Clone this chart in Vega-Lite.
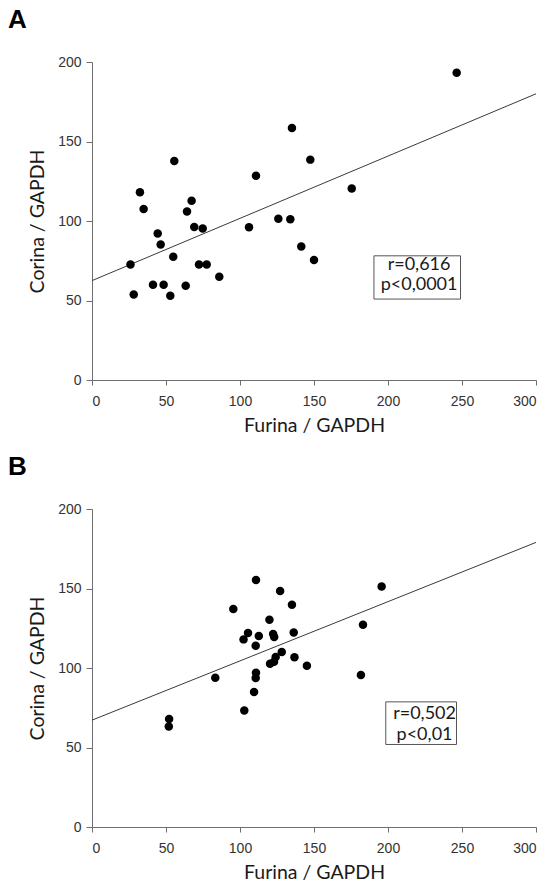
{
  "$schema": "https://vega.github.io/schema/vega-lite/v6.json",
  "background": "white",
  "padding": {"left": 8, "top": 7, "right": 5, "bottom": 2},
  "spacing": 19,
  "config": {
    "view": {"stroke": null},
    "axis": {
      "grid": false,
      "domainColor": "#6e6e6e",
      "tickColor": "#6e6e6e",
      "labelFont": "Liberation Sans",
      "labelFontSize": 14,
      "labelColor": "#333333",
      "titleFont": "Lato",
      "titleFontSize": 19.5,
      "titleFontWeight": "normal",
      "titleColor": "#1a1a1a"
    },
    "axisX": {"tickSize": 5, "labelPadding": 9, "titlePadding": 8},
    "axisY": {"tickSize": 6, "labelPadding": 5, "titlePadding": 10},
    "title": {
      "font": "Liberation Sans",
      "fontSize": 26,
      "fontWeight": "bold",
      "color": "#000000",
      "anchor": "start",
      "frame": "group",
      "dx": -84,
      "offset": 22
    }
  },
  "datasets": {
    "pointsA": [
      {"furina": 26.0, "corina": 72.7}, {"furina": 28.2, "corina": 53.8},
      {"furina": 32.4, "corina": 118.1}, {"furina": 34.9, "corina": 107.6},
      {"furina": 44.4, "corina": 92.1}, {"furina": 46.4, "corina": 85.2},
      {"furina": 41.2, "corina": 59.9}, {"furina": 48.4, "corina": 59.9},
      {"furina": 52.9, "corina": 53.0}, {"furina": 54.9, "corina": 77.5},
      {"furina": 55.6, "corina": 137.8}, {"furina": 63.3, "corina": 59.3},
      {"furina": 64.2, "corina": 106.0}, {"furina": 67.3, "corina": 112.7},
      {"furina": 69.1, "corina": 96.3}, {"furina": 74.8, "corina": 95.3},
      {"furina": 72.3, "corina": 72.7}, {"furina": 77.5, "corina": 72.7},
      {"furina": 86.0, "corina": 64.9}, {"furina": 106.1, "corina": 96.1},
      {"furina": 110.8, "corina": 128.4}, {"furina": 125.9, "corina": 101.4},
      {"furina": 134.0, "corina": 101.1}, {"furina": 135.1, "corina": 158.5},
      {"furina": 141.4, "corina": 84.0}, {"furina": 147.5, "corina": 138.6},
      {"furina": 150.0, "corina": 75.4}, {"furina": 175.5, "corina": 120.5},
      {"furina": 246.4, "corina": 193.3}
    ],
    "fitA": [{"furina": 0, "corina": 62.5}, {"furina": 300, "corina": 180.0}],
    "boxA": [{"furina": 190.5, "furina2": 249.0, "corina": 50.9, "corina2": 78.1}],
    "statsA": [
      {"furina": 221.0, "corina": 69.3, "label": "r=0,616"},
      {"furina": 221.0, "corina": 56.5, "label": "p<0,0001"}
    ],
    "pointsB": [
      {"furina": 52.1, "corina": 68.0}, {"furina": 51.9, "corina": 63.2},
      {"furina": 83.3, "corina": 93.8}, {"furina": 95.5, "corina": 137.1},
      {"furina": 102.9, "corina": 73.2}, {"furina": 102.4, "corina": 118.0},
      {"furina": 105.4, "corina": 122.0}, {"furina": 110.8, "corina": 155.4},
      {"furina": 110.6, "corina": 114.0}, {"furina": 110.8, "corina": 97.0},
      {"furina": 110.6, "corina": 93.7}, {"furina": 109.5, "corina": 84.9},
      {"furina": 112.7, "corina": 120.1}, {"furina": 119.9, "corina": 130.3},
      {"furina": 122.4, "corina": 121.4}, {"furina": 123.1, "corina": 119.5},
      {"furina": 120.3, "corina": 102.7}, {"furina": 123.0, "corina": 104.0},
      {"furina": 124.1, "corina": 106.9}, {"furina": 128.2, "corina": 110.1},
      {"furina": 127.1, "corina": 148.4}, {"furina": 135.1, "corina": 139.8},
      {"furina": 136.3, "corina": 122.3}, {"furina": 136.8, "corina": 106.7},
      {"furina": 145.2, "corina": 101.4}, {"furina": 181.7, "corina": 95.6},
      {"furina": 183.1, "corina": 127.2}, {"furina": 195.7, "corina": 151.2}
    ],
    "fitB": [{"furina": 0, "corina": 67.2}, {"furina": 300, "corina": 179.0}],
    "boxB": [{"furina": 198.5, "furina2": 246.3, "corina": 51.9, "corina2": 78.7}],
    "statsB": [
      {"furina": 224.7, "corina": 68.0, "label": "r=0,502"},
      {"furina": 224.7, "corina": 55.0, "label": "p<0,01"}
    ]
  },
  "vconcat": [
    {
      "title": {"text": "A"},
      "width": 444,
      "height": 318,
      "encoding": {
        "x": {
          "field": "furina", "type": "quantitative",
          "scale": {"domain": [0, 300], "nice": false},
          "axis": {"title": "Furina / GAPDH", "values": [0, 50, 100, 150, 200, 250, 300]}
        },
        "y": {
          "field": "corina", "type": "quantitative",
          "scale": {"domain": [0, 200], "nice": false},
          "axis": {"title": "Corina / GAPDH", "values": [0, 50, 100, 150, 200]}
        }
      },
      "layer": [
        {"data": {"name": "fitA"}, "mark": {"type": "line", "color": "#3a3a3a", "strokeWidth": 1}},
        {"data": {"name": "pointsA"}, "mark": {"type": "circle", "color": "#000000", "opacity": 1, "size": 72}},
        {
          "data": {"name": "boxA"},
          "mark": {"type": "rect", "fill": "white", "stroke": "#555555", "strokeWidth": 1},
          "encoding": {"x2": {"field": "furina2"}, "y2": {"field": "corina2"}}
        },
        {
          "data": {"name": "statsA"},
          "mark": {"type": "text", "font": "Lato", "fontSize": 18, "color": "#1a1a1a", "align": "center", "baseline": "alphabetic"},
          "encoding": {"text": {"field": "label"}}
        }
      ]
    },
    {
      "title": {"text": "B"},
      "width": 444,
      "height": 318,
      "encoding": {
        "x": {
          "field": "furina", "type": "quantitative",
          "scale": {"domain": [0, 300], "nice": false},
          "axis": {"title": "Furina / GAPDH", "values": [0, 50, 100, 150, 200, 250, 300]}
        },
        "y": {
          "field": "corina", "type": "quantitative",
          "scale": {"domain": [0, 200], "nice": false},
          "axis": {"title": "Corina / GAPDH", "values": [0, 50, 100, 150, 200]}
        }
      },
      "layer": [
        {"data": {"name": "fitB"}, "mark": {"type": "line", "color": "#3a3a3a", "strokeWidth": 1}},
        {"data": {"name": "pointsB"}, "mark": {"type": "circle", "color": "#000000", "opacity": 1, "size": 72}},
        {
          "data": {"name": "boxB"},
          "mark": {"type": "rect", "fill": "white", "stroke": "#555555", "strokeWidth": 1},
          "encoding": {"x2": {"field": "furina2"}, "y2": {"field": "corina2"}}
        },
        {
          "data": {"name": "statsB"},
          "mark": {"type": "text", "font": "Lato", "fontSize": 18, "color": "#1a1a1a", "align": "center", "baseline": "alphabetic"},
          "encoding": {"text": {"field": "label"}}
        }
      ]
    }
  ]
}
